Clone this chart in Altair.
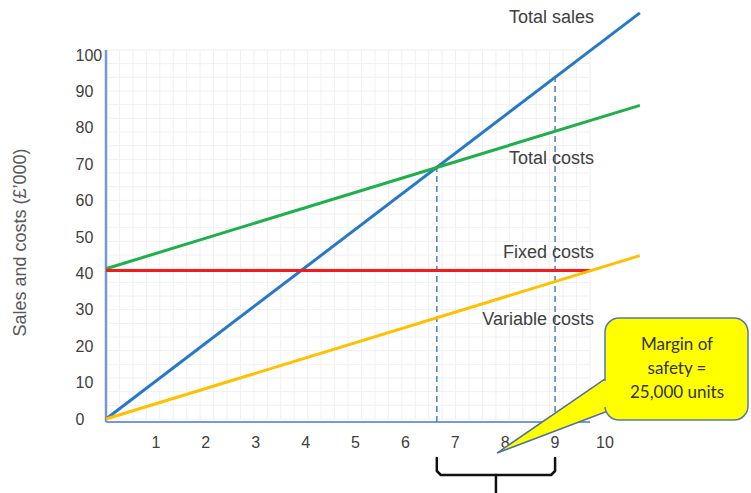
import altair as alt
import pandas as pd
import numpy as np

# ---------------- data ----------------
units = [0, 10.7]                      # output, '0,000 units
total_sales = [0, 111.6]               # £'000
total_costs = [41.3, 86.2]
fixed_units = [0, 9.7]
fixed_costs = [40.8, 40.8]
variable_costs = [0, 44.9]

series_names = ["Total sales", "Total costs", "Fixed costs", "Variable costs"]
series_colors = ["#2878c8", "#1fb04c", "#f21c1c", "#ffc000"]

marker_units = [6.63, 9.0]             # break-even point, actual sales
marker_tops = [69.0, 94.0]

x_tick_labels = [1, 2, 3, 4, 5, 6, 7, 8, 9, 10]
y_tick_values = [0, 10, 20, 30, 40, 50, 60, 70, 80, 90, 100]
y_title = "Sales and costs (£’000)"
callout_lines = ["Margin of", "safety =", "25,000 units"]

# ---------------- layout ----------------
W, H = 484, 369
PAD_L, PAD_T = 106, 50
X_MAX, Y_MAX = 9.7, 101.4
FONT = "Liberation Sans"
TXT = "#404040"
AXIS_COL = "#7898d4"


def ux(px):
    return (px - PAD_L) / (W / X_MAX)


def vy(py):
    return (PAD_T + H - py) / (H / Y_MAX)


xs = alt.Scale(domain=[0, X_MAX], nice=False, zero=False)
ys = alt.Scale(domain=[0, Y_MAX], nice=False, zero=False)
y_axis = alt.Axis(values=y_tick_values, domain=False, ticks=False, tickSize=0, grid=False,
                  labelPadding=31, labelAlign="left", labelFont=FONT, labelFontSize=16,
                  labelColor=TXT, labelFlush=False, labelOverlap=False,
                  title=y_title, titleFont=FONT, titleFontSize=18, titleColor="#595959",
                  titleFontWeight="normal", titleAngle=270, titleX=-86, titleY=192,
                  titleAlign="center", titleBaseline="middle")

one = pd.DataFrame({"a": [0]})

# grid
grid_x = pd.DataFrame({"gx": np.linspace(0, X_MAX, 37)})
grid_y = pd.DataFrame({"gy": np.linspace(0, Y_MAX, 28)})
vgrid = alt.Chart(grid_x).mark_rule(color="#f0f0f0", strokeWidth=1).encode(
    x=alt.X("gx:Q", scale=xs, axis=None))
hgrid = alt.Chart(grid_y).mark_rule(color="#f0f0f0", strokeWidth=1).encode(
    y=alt.Y("gy:Q", scale=ys, axis=y_axis))

# axis lines
yline = alt.Chart(one).mark_rule(color=AXIS_COL, strokeWidth=2.5).encode(
    x=alt.value(0), y=alt.value(0), y2=alt.value(H + 3))
xline = alt.Chart(one).mark_rule(color=AXIS_COL, strokeWidth=2).encode(
    x=alt.value(0), x2=alt.value(W), y=alt.value(H + 3))

# dashed markers
markers = pd.DataFrame({"x": marker_units, "y0": [vy(422)] * 2, "top": marker_tops})
dashed = alt.Chart(markers).mark_rule(color="#4a7fc1", strokeWidth=1.5, strokeDash=[6, 4]).encode(
    x=alt.X("x:Q", scale=xs, axis=None),
    y=alt.Y("y0:Q", scale=ys, axis=y_axis),
    y2="top:Q")

# series lines
rows = []
for name, xv, yv in [("Total sales", units, total_sales),
                     ("Total costs", units, total_costs),
                     ("Fixed costs", fixed_units, fixed_costs),
                     ("Variable costs", units, variable_costs)]:
    for a, b in zip(xv, yv):
        rows.append({"series": name, "x": a, "y": b})
lines_df = pd.DataFrame(rows)
lines = alt.Chart(lines_df).mark_line(strokeWidth=3).encode(
    x=alt.X("x:Q", scale=xs, axis=None),
    y=alt.Y("y:Q", scale=ys, axis=y_axis),
    color=alt.Color("series:N", scale=alt.Scale(domain=series_names, range=series_colors), legend=None),
    order="x:Q")

# x tick labels
xlab = alt.Chart(pd.DataFrame({"x": x_tick_labels})).mark_text(
    font=FONT, fontSize=16, color=TXT, baseline="middle", align="center").encode(
    x=alt.X("x:Q", scale=xs, axis=None), y=alt.value(443 - PAD_T), text="x:Q")

# series annotations
ann_y = {"Total sales": 18, "Total costs": 159, "Fixed costs": 253, "Variable costs": 320}
anns = [alt.Chart(one).mark_text(text=n, font=FONT, fontSize=18, color=TXT,
                                 align="right", baseline="middle").encode(
    x=alt.value(594 - PAD_L), y=alt.value(ann_y[n] - PAD_T)) for n in series_names]

# brace under the margin of safety
L, R = marker_units
M = (L + R) / 2
c = 0.08
brace_df = pd.DataFrame({
    "path": ["b"] * 6 + ["s"] * 2,
    "o": [0, 1, 2, 3, 4, 5, 0, 1],
    "x": [L, L, L + c, R - c, R, R, M, M],
    "y": [vy(458), vy(471), vy(475), vy(475), vy(471), vy(458), vy(475), vy(494)],
})
brace = alt.Chart(brace_df).mark_line(color="#111111", strokeWidth=2.5, strokeCap="round",
                                      strokeJoin="round").encode(
    x=alt.X("x:Q", scale=xs, axis=None),
    y=alt.Y("y:Q", scale=ys, axis=y_axis),
    detail="path:N", order="o:Q")

# callout
pointer_df = pd.DataFrame({"x": [ux(497), ux(608)], "lo": [vy(453), vy(411)], "hi": [vy(453), vy(377)]})
pointer = alt.Chart(pointer_df).mark_area(fill="#ffff00", stroke="#4f6fa3", strokeWidth=1.5,
                                          orient="vertical", opacity=1).encode(
    x=alt.X("x:Q", scale=xs, axis=None),
    y=alt.Y("lo:Q", scale=ys, axis=y_axis),
    y2="hi:Q")
box = alt.Chart(one).mark_rect(fill="#ffff00", stroke="#5878a8", strokeWidth=1.5, cornerRadius=14).encode(
    x=alt.value(605 - PAD_L), x2=alt.value(748 - PAD_L),
    y=alt.value(318 - PAD_T), y2=alt.value(420 - PAD_T))
patch = alt.Chart(one).mark_rect(fill="#ffff00").encode(
    x=alt.value(603 - PAD_L), x2=alt.value(608 - PAD_L),
    y=alt.value(381 - PAD_T), y2=alt.value(407 - PAD_T))
ctext = alt.Chart(one).mark_text(text=callout_lines, font="Lato", fontSize=17, color="#333333",
                                 align="center", baseline="middle", lineHeight=24).encode(
    x=alt.value(677 - PAD_L), y=alt.value(345 - PAD_T))

chart = alt.layer(
    vgrid, hgrid, yline, xline, dashed, lines, xlab, *anns, brace, pointer, box, patch, ctext
).properties(
    width=W, height=H,
    autosize=alt.AutoSizeParams(type="none"),
    padding={"left": PAD_L, "top": PAD_T, "right": 751 - PAD_L - W, "bottom": 493 - PAD_T - H},
    background="white",
).configure_view(stroke=None)

chart.save("out.html", embed_options={"renderer": "svg", "actions": False})
